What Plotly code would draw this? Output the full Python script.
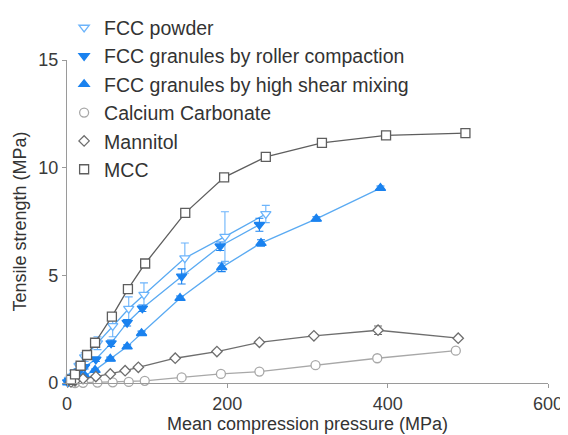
import plotly.graph_objects as go

# ---- data (MPa) ----
powder_x = [1, 3, 6, 10, 15, 22, 38, 57, 77, 96, 147, 197, 248]
powder_y = [0.05, 0.15, 0.3, 0.5, 0.8, 1.2, 1.85, 2.65, 3.45, 4.1, 5.8, 6.8, 7.85]
powder_e = [0.02, 0.05, 0.1, 0.1, 0.15, 0.2, 0.3, 0.5, 0.55, 0.55, 0.7, 1.15, 0.4]

roller_x = [1, 3, 6, 10, 15, 22, 36, 55, 75, 94, 143, 191, 240]
roller_y = [0.03, 0.1, 0.2, 0.35, 0.55, 0.75, 1.1, 1.85, 2.8, 3.47, 4.95, 6.35, 7.35]
roller_e = [0.02, 0.03, 0.05, 0.05, 0.08, 0.1, 0.1, 0.15, 0.15, 0.15, 0.35, 0.2, 0.3]

shear_x = [1, 3, 6, 10, 15, 22, 35, 54, 75, 93, 141, 193, 242, 311, 391]
shear_y = [0.02, 0.05, 0.1, 0.15, 0.25, 0.35, 0.6, 1.12, 1.69, 2.31, 3.94, 5.37, 6.5, 7.62, 9.05]
shear_e = [0.01, 0.02, 0.03, 0.03, 0.05, 0.05, 0.05, 0.08, 0.08, 0.1, 0.1, 0.2, 0.15, 0.1, 0.1]

caco3_x = [10, 20, 38, 57, 77, 97, 143, 192, 240, 310, 387, 485]
caco3_y = [0.0, 0.01, 0.02, 0.03, 0.05, 0.1, 0.26, 0.42, 0.53, 0.83, 1.15, 1.5]

mannitol_x = [5, 10, 20, 36, 54, 72.5, 89, 135, 187, 240, 308, 388, 488]
mannitol_y = [0.05, 0.1, 0.2, 0.3, 0.42, 0.57, 0.73, 1.15, 1.46, 1.89, 2.19, 2.45, 2.08]
mannitol_e = [0, 0, 0, 0, 0, 0, 0, 0, 0, 0, 0.05, 0.2, 0]

mcc_x = [5, 10, 17, 25, 35, 56, 76, 97.5, 147.5, 196, 248, 318, 398, 497]
mcc_y = [0.15, 0.4, 0.8, 1.3, 1.87, 3.08, 4.36, 5.55, 7.9, 9.55, 10.5, 11.15, 11.5, 11.6]

x_ticks = [0, 200, 400, 600]
y_ticks = [0, 5, 10, 15]

FONT = "Liberation Sans, Arial, sans-serif"
BLUE_LINE = "#5aaaf2"

fig = go.Figure()

def add_series(name, xs, ys, err, symbol, mcolor, fill, lcolor, size=9):
    # connecting line (no legend entry)
    fig.add_trace(go.Scatter(x=xs, y=ys, mode="lines", line=dict(color=lcolor, width=1.3),
                             showlegend=False, hoverinfo="skip", cliponaxis=False))
    marker = dict(symbol=symbol, size=size,
                  color=(mcolor if fill else "white"),
                  line=dict(color=mcolor, width=1.3))
    fig.add_trace(go.Scatter(
        x=xs, y=ys, mode="markers", name=name, marker=marker, cliponaxis=False,
        legendgroup=name,
        error_y=(dict(type="data", array=err, visible=True, color=mcolor, thickness=1.1, width=4)
                 if err is not None else None)))

add_series("FCC powder", powder_x, powder_y, powder_e, "triangle-down", "#6cb4fb", False, BLUE_LINE)
add_series("FCC granules by roller compaction", roller_x, roller_y, roller_e, "triangle-down", "#1a82ef", True, BLUE_LINE)
add_series("FCC granules by high shear mixing", shear_x, shear_y, shear_e, "triangle-up", "#1a82ef", True, BLUE_LINE)
add_series("Calcium Carbonate", caco3_x, caco3_y, None, "circle", "#a8a8a8", False, "#a8a8a8", size=9)
add_series("Mannitol", mannitol_x, mannitol_y, mannitol_e, "diamond", "#6e6e6e", False, "#6e6e6e", size=8)
add_series("MCC", mcc_x, mcc_y, None, "square", "#5e5e5e", False, "#5e5e5e", size=9)

axis_common = dict(showgrid=False, zeroline=False, showline=True, linecolor="#9a9a9a", linewidth=1.2,
                   ticks="outside", ticklen=4, tickcolor="#9a9a9a", tickwidth=1, automargin=False,
                   tickfont=dict(family=FONT, size=18, color="#3a3a3a"))

# page has an 8px body margin; figure is sized so it fills the 568x435 window
fig.update_layout(
    width=560, height=427,
    margin=dict(l=59, r=20, t=52, b=52, autoexpand=False),
    paper_bgcolor="white", plot_bgcolor="white",
    font=dict(family=FONT, size=18, color="#333333"),
    xaxis=dict(range=[0, 600], tickvals=x_ticks, ticktext=[str(v) for v in x_ticks],
               title=dict(text="Mean compression pressure (MPa)", font=dict(size=18), standoff=2),
               **axis_common),
    yaxis=dict(range=[0, 15], tickvals=y_ticks, ticktext=[str(v) for v in y_ticks],
               title=dict(text="Tensile strength (MPa)", font=dict(size=18), standoff=6),
               **axis_common),
    legend=dict(x=-0.006, y=1.16, xanchor="left", yanchor="top", bgcolor="rgba(0,0,0,0)",
                font=dict(family=FONT, size=19.5, color="#333333"), tracegroupgap=0,
                itemwidth=30),
    showlegend=True,
)

fig.write_html("out.html")
